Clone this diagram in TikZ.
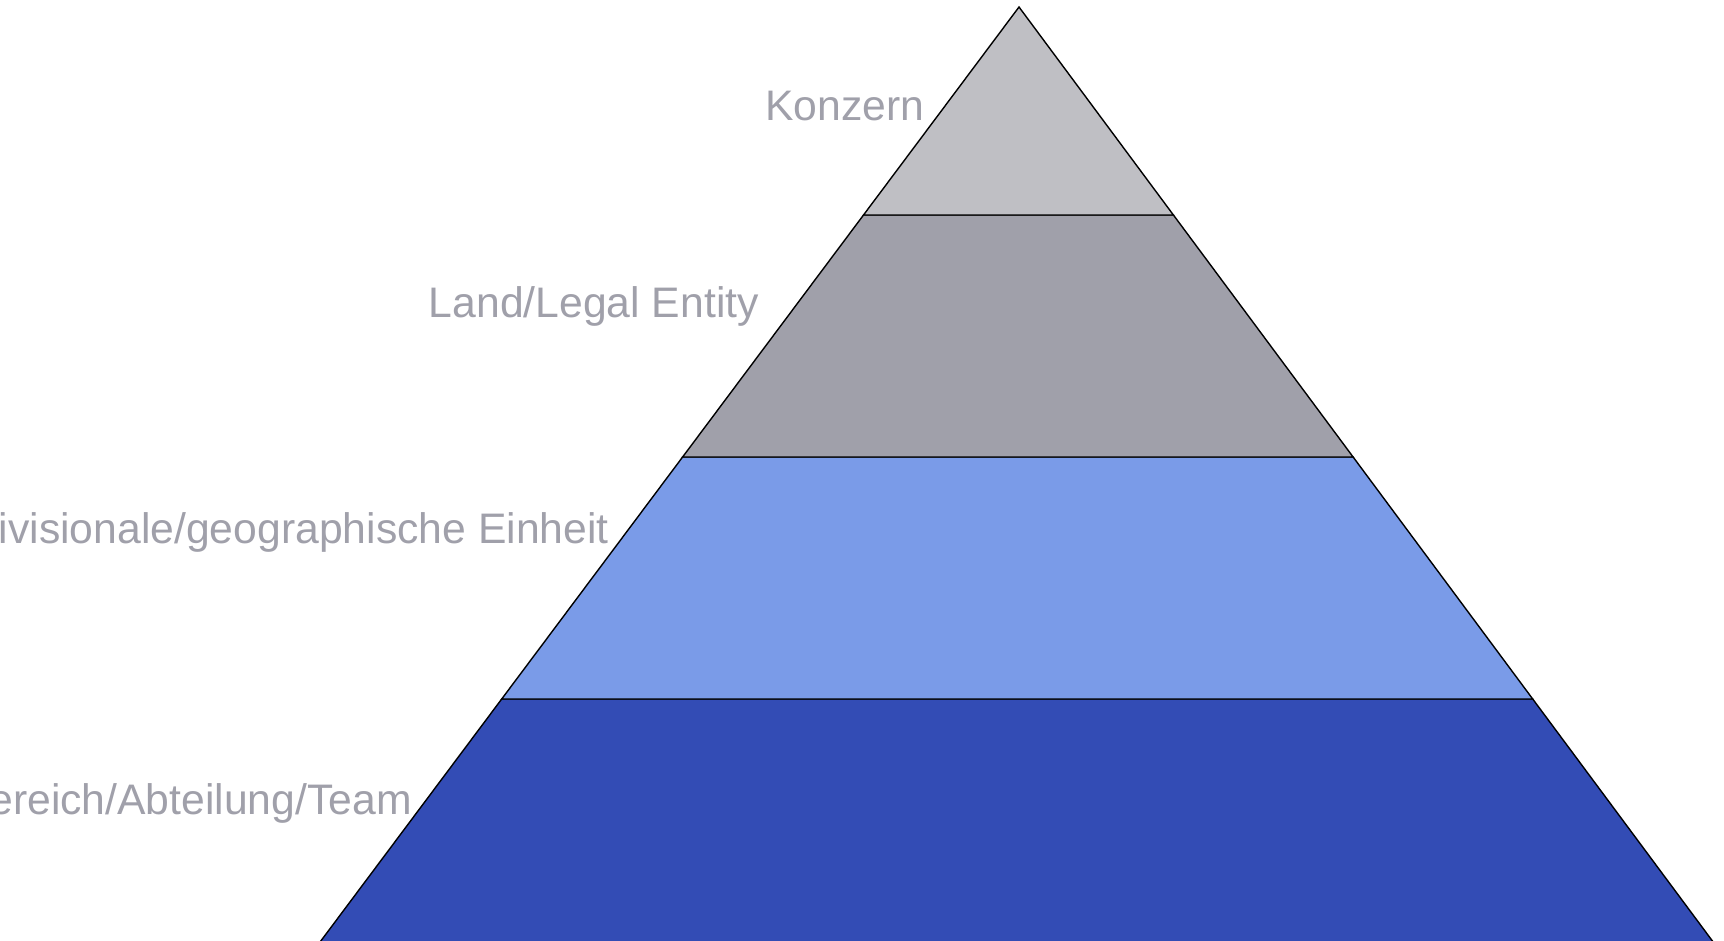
\documentclass[tikz,border=0pt]{standalone}
\usepackage{fontspec}
\setmainfont{Liberation Sans}
\definecolor{lvlA}{HTML}{BFBFC4}
\definecolor{lvlB}{HTML}{A0A0AA}
\definecolor{lvlC}{HTML}{7A9BE8}
\definecolor{lvlD}{HTML}{334CB5}
\definecolor{lbl}{HTML}{A0A0AA}
\begin{document}
\begin{tikzpicture}[x=1pt,y=-1pt,
  layer/.style={draw=black,line width=1.4pt,line join=miter},
  lvltext/.style={anchor=base east,inner sep=0pt,text=lbl,font=\fontsize{42.7}{50}\selectfont}]
\useasboundingbox (0,0) rectangle (1724,940);
\clip (0,0) rectangle (1724,940);
\coordinate (apex) at (1019,7);
\coordinate (l1) at (863.5,215); \coordinate (r1) at (1173.4,215);
\coordinate (l2) at (682.6,457); \coordinate (r2) at (1353.1,457);
\coordinate (l3) at (501.7,699); \coordinate (r3) at (1532.7,699);
\coordinate (l5) at (317.8,945); \coordinate (r5) at (1715.4,945);
\filldraw[layer,fill=lvlD] (l3) -- (r3) -- (r5) -- (l5) -- cycle;
\filldraw[layer,fill=lvlC] (l2) -- (r2) -- (r3) -- (l3) -- cycle;
\filldraw[layer,fill=lvlB] (l1) -- (r1) -- (r2) -- (l2) -- cycle;
\filldraw[layer,fill=lvlA] (apex) -- (r1) -- (l1) -- cycle;
\node[lvltext] (konzern) at (924.5,120) {Konzern};
\node[lvltext] (land) at (759,317) {Land/Legal Entity};
\node[lvltext] (div) at (609,543) {Divisionale/geographische Einheit};
\node[lvltext] (team) at (412,814) {Bereich/Abteilung/Team};
\end{tikzpicture}
\end{document}
